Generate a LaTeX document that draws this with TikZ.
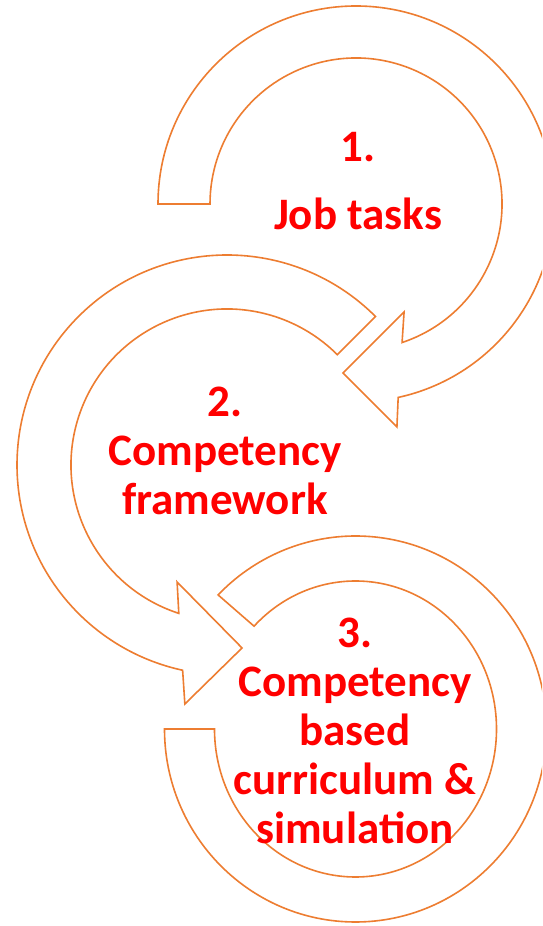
\documentclass[tikz,border=0pt]{standalone}
\usepackage{fontspec}
\setmainfont{Carlito}
\usepackage{xcolor}
\usepackage{tikz}
\definecolor{arroworange}{HTML}{ED7D31}
\definecolor{labelred}{HTML}{FF0000}

\begin{document}
\begin{tikzpicture}[x=1pt, y=1pt,
  circarrow/.style={draw=arroworange, line width=1.6pt, fill=white, line join=miter},
  steplabel/.style={text=labelred, font=\fontsize{45}{49}\selectfont\bfseries, align=center, anchor=base}]
\useasboundingbox (0,0) rectangle (542,926);
\clip (0,0) rectangle (542,926);

% Job tasks arrow
\coordinate (c1) at (356,722);
\draw[circarrow] ([shift={(180:198)}]c1) arc[start angle=180, end angle=-77.7, radius=198]
  -- ([shift={(-79.6:226.7)}]c1) -- ([shift={(-94.4:169.5)}]c1) -- ([shift={(-66:118.2)}]c1)
  -- ([shift={(-71.6:146)}]c1) arc[start angle=-71.6, end angle=180, radius=146] -- cycle;

% Competency framework arrow
\coordinate (c2) at (227,461);
\draw[circarrow] ([shift={(45:210)}]c2) arc[start angle=45, end angle=257.8, radius=210]
  -- ([shift={(260:242.7)}]c2) -- ([shift={(274.7:183.6)}]c2) -- ([shift={(246.9:127.2)}]c2)
  -- ([shift={(252:156)}]c2) arc[start angle=252, end angle=45, radius=156] -- cycle;

% Curriculum arrow
\coordinate (c3) at (355.5,197);
\draw[circarrow] ([shift={(180:191 and 193)}]c3) arc[start angle=180, end angle=496, x radius=191, y radius=193]
  -- ([shift={(136:141 and 148)}]c3) arc[start angle=136, end angle=-180, x radius=141, y radius=148] -- cycle;

% Labels (base = last line)
\node[steplabel] (jobtasks) at (358,696) {1.\\[19pt]Job tasks};
\node[steplabel] (framework) at (225,411) {2.\\Competency\\framework};
\node[steplabel] (curriculum) at (355,82) {3.\\Competency\\based\\curriculum \&\\simulation};
\end{tikzpicture}
\end{document}
